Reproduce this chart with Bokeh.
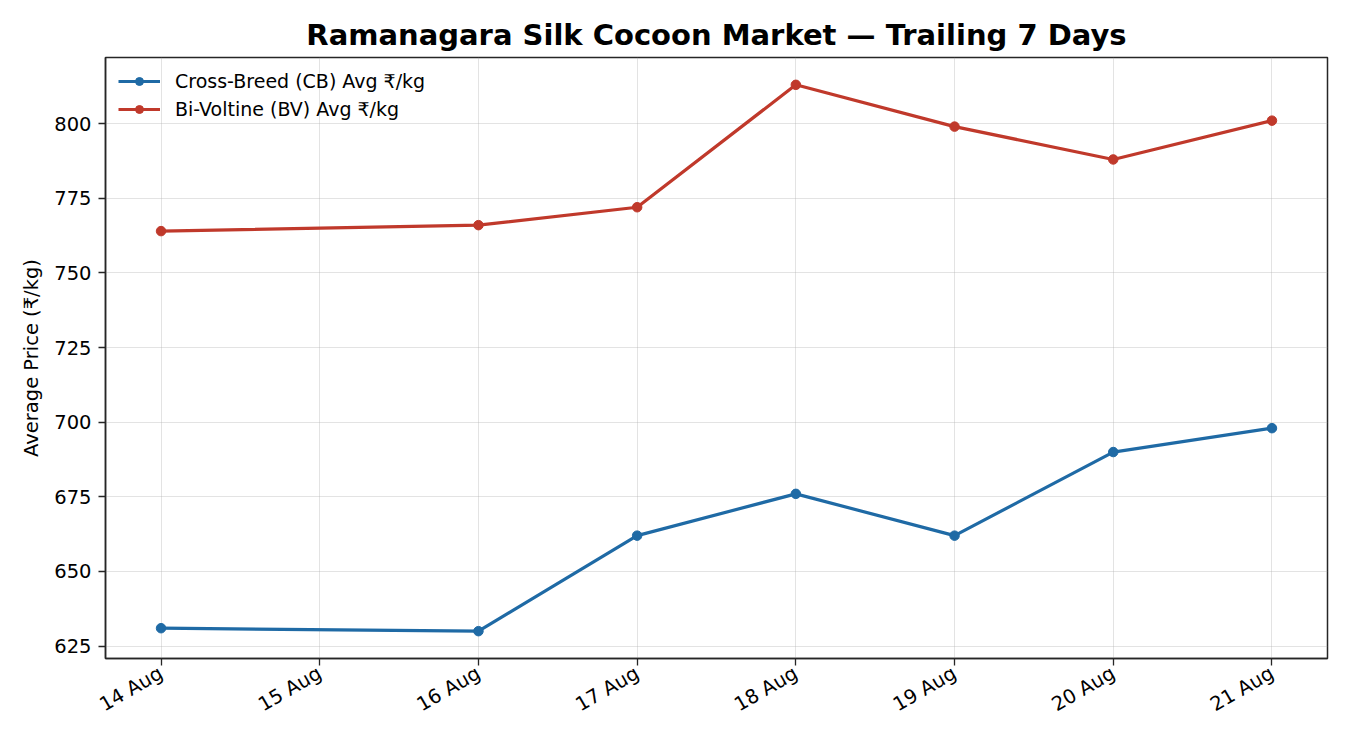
import math
from bokeh.plotting import figure
from bokeh.models import FixedTicker, Legend, LegendItem
from bokeh.embed import file_html
from bokeh.resources import INLINE

# ---- data ----
days = [14, 16, 17, 18, 19, 20, 21]
cb_avg = [631, 630, 662, 676, 662, 690, 698]
bv_avg = [764, 766, 772, 813, 799, 788, 801]
tick_days = [14, 15, 16, 17, 18, 19, 20, 21]
tick_labels = ["14 Aug", "15 Aug", "16 Aug", "17 Aug", "18 Aug", "19 Aug", "20 Aug", "21 Aug"]
y_ticks = [625, 650, 675, 700, 725, 750, 775, 800]
title_text = "Ramanagara Silk Cocoon Market \u2014 Trailing 7 Days"
cb_label = "Cross-Breed (CB) Avg \u20b9/kg"
bv_label = "Bi-Voltine (BV) Avg \u20b9/kg"

FONT = "DejaVu Sans"
CB_COLOR = "#1f6aa5"
BV_COLOR = "#c0392b"

xpad = (max(days) - min(days)) * 0.05
ymin, ymax = min(cb_avg + bv_avg), max(cb_avg + bv_avg)
ypad = (ymax - ymin) * 0.05

p = figure(
    frame_width=1222, frame_height=601,
    min_border_left=105, min_border_right=7, min_border_top=57, min_border_bottom=76,
    x_range=(min(days) - xpad, max(days) + xpad),
    y_range=(ymin - ypad, ymax + ypad),
    output_backend="svg", toolbar_location=None,
)

p.title.text = title_text
p.title.align = "center"
p.title.text_font = FONT
p.title.text_font_size = "29px"
p.title.text_font_style = "bold"
p.title.text_color = "black"
p.title.standoff = 11

p.outline_line_color = "#262626"
p.outline_line_width = 1.5
p.outline_line_alpha = 1.0

for ax in (p.xaxis[0], p.yaxis[0]):
    ax.axis_line_color = "#262626"
    ax.axis_line_width = 1.5
    ax.major_tick_line_color = "#262626"
    ax.major_tick_line_width = 1.3
    ax.major_tick_out = 7
    ax.major_tick_in = 0
    ax.minor_tick_line_color = None
    ax.major_label_text_font = FONT
    ax.major_label_text_font_size = "19.5px"
    ax.major_label_text_color = "black"

p.xaxis.ticker = FixedTicker(ticks=tick_days)
p.xaxis.major_label_overrides = {d: l for d, l in zip(tick_days, tick_labels)}
p.xaxis.major_label_orientation = math.pi / 6
p.xaxis.major_label_standoff = 6

p.yaxis.ticker = FixedTicker(ticks=y_ticks)
p.yaxis.major_label_standoff = 7
p.yaxis.axis_label = "Average Price (\u20b9/kg)"
p.yaxis.axis_label_text_font = FONT
p.yaxis.axis_label_text_font_size = "19.5px"
p.yaxis.axis_label_text_font_style = "normal"
p.yaxis.axis_label_text_color = "black"
p.yaxis.axis_label_standoff = 8

p.xgrid.grid_line_color = "#b0b0b0"
p.ygrid.grid_line_color = "#b0b0b0"
p.xgrid.grid_line_alpha = 0.35
p.ygrid.grid_line_alpha = 0.35
p.xgrid.grid_line_width = 1
p.ygrid.grid_line_width = 1

cb_line = p.line(days, cb_avg, line_color=CB_COLOR, line_width=3.2)
cb_pts = p.scatter(days, cb_avg, size=9.5, fill_color=CB_COLOR, line_color=CB_COLOR)
bv_line = p.line(days, bv_avg, line_color=BV_COLOR, line_width=3.2)
bv_pts = p.scatter(days, bv_avg, size=9.5, fill_color=BV_COLOR, line_color=BV_COLOR)

legend = Legend(
    items=[LegendItem(label=cb_label, renderers=[cb_line, cb_pts]),
           LegendItem(label=bv_label, renderers=[bv_line, bv_pts])],
    location="top_left",
    border_line_color=None,
    background_fill_alpha=0.0,
    label_text_font=FONT,
    label_text_font_size="19px",
    label_text_color="black",
    glyph_width=42,
    label_standoff=15,
    spacing=6,
    margin=13,
    padding=5,
)
p.add_layout(legend)

open("out.html", "w").write(file_html(p, INLINE))
